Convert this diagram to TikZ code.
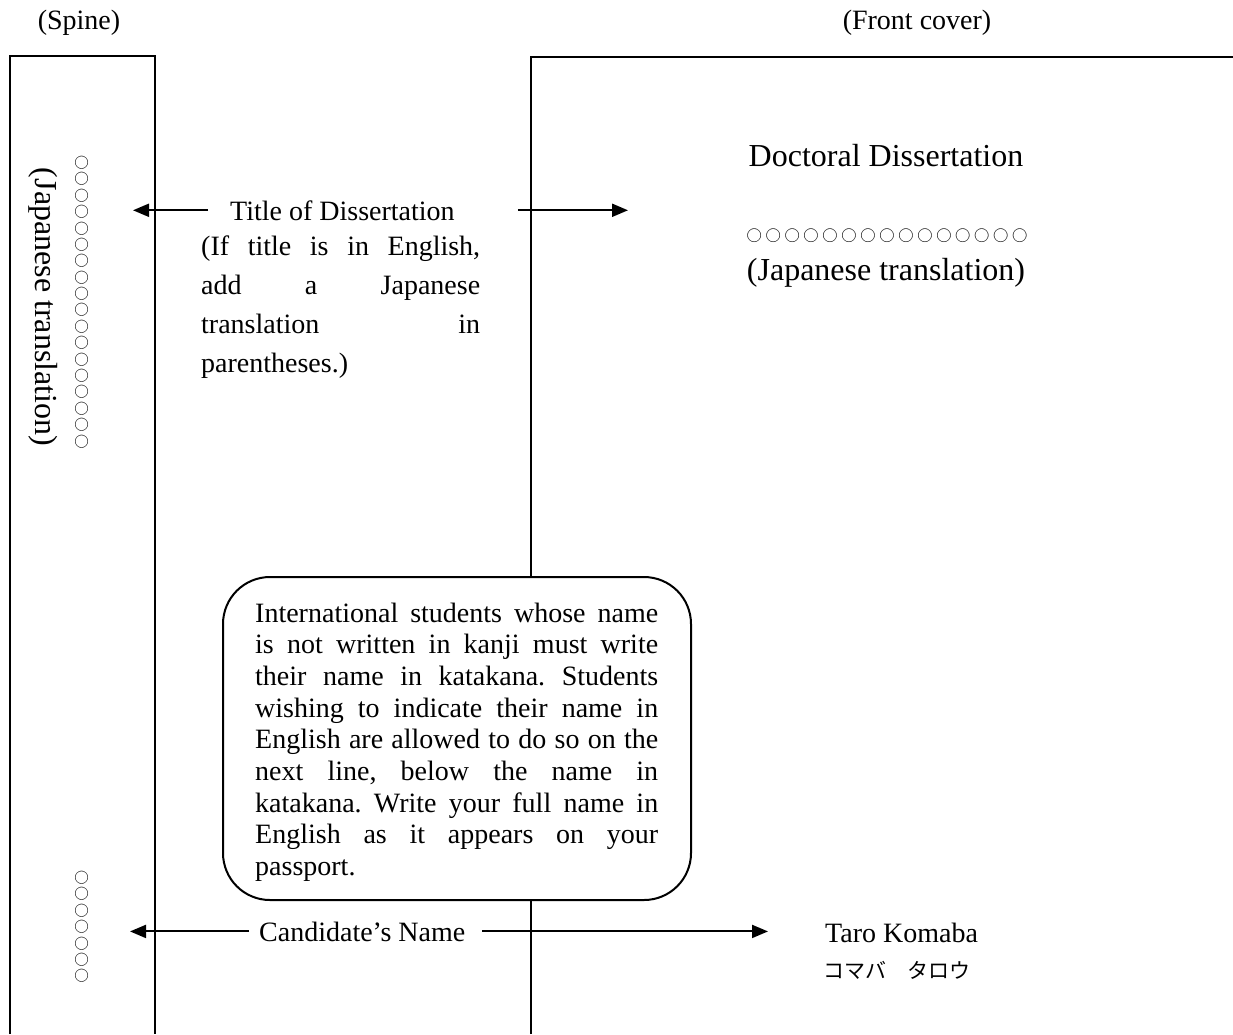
\documentclass[tikz,border=0pt]{standalone}
\usepackage{fontspec}
\setmainfont{Liberation Serif}
\newfontfamily\jpfont{Noto Sans CJK JP}
\newfontfamily\ringfont[LetterSpace=13]{Noto Sans CJK JP}
\newfontfamily\ringwide[LetterSpace=24]{Noto Sans CJK JP}
\usetikzlibrary{arrows.meta}

\begin{document}
\begin{tikzpicture}[x=1pt,y=-1pt,
    frame/.style={line width=2pt},
    pointer/.style={line width=2pt,-{Triangle[length=16pt,width=13pt]}},
    txt/.style={inner sep=0pt,font=\fontsize{28}{34}\selectfont},
    big/.style={inner sep=0pt,font=\fontsize{32}{38}\selectfont},
    marks/.style={inner sep=0pt,font=\ringfont\fontsize{14.5}{20}\selectfont}]
  \useasboundingbox (0,0) rectangle (1233,1034);

  % spine and front cover
  \draw[frame] (10,1034) |- (155,56) -- (155,1034);
  \draw[frame] (531,1034) |- (1233,57);
  \node[txt,anchor=base] (spinehead) at (79,29) {(Spine)};
  \node[txt,anchor=base] (fronthead) at (917,29) {(Front cover)};

  % spine
  \node[big,rotate=-90] (spinetitle) at (43,307) {(Japanese translation)};
  \node[marks,rotate=-90] (spinemarks) at (82,302) {○○○○○○○○○○○○○○○○○○};
  \node[marks,rotate=-90] (spinename) at (82,927) {○○○○○○○};

  % front cover
  \node[big,anchor=base] (doctoral) at (886,166) {Doctoral Dissertation};
  \node[inner sep=0pt,font=\ringwide\fontsize{15.3}{22}\selectfont] (frontmarks) at (887,236) {○○○○○○○○○○○○○○○};
  \node[big,anchor=base] (fronttrans) at (886,280) {(Japanese translation)};
  \node[txt,anchor=base west] (taro) at (825,942) {Taro Komaba};
  \node[inner sep=0pt,anchor=west,font=\jpfont\fontsize{21}{24}\selectfont] (kana) at (823,970) {コマバ　タロウ};

  % title of dissertation
  \coordinate (titleL) at (133,0);
  \coordinate (titleR) at (628,0);
  \node[txt,anchor=base west] (title) at (230,220) {Title of Dissertation};
  \node[txt,anchor=base west] (titlenote) at (201,255) {\parbox[t]{279pt}{\fontsize{28}{39}\selectfont
    \tolerance=10000 \hbadness=10000 \hyphenpenalty=10000 \frenchspacing
    (If title is in English,\linebreak add a Japanese\linebreak translation in\linebreak parentheses.)}};
  \draw[pointer] ([xshift=-22pt]title.west) -- (title.west -| titleL);
  \draw[pointer] ([xshift=63pt]title.east) -- (title.east -| titleR);

  % note on the name
  \node[draw,line width=2pt,fill=white,rounded corners=47pt,minimum width=468pt,minimum height=323pt,inner sep=0pt] (notebox) at (457,738.5) {};
  \node[txt,anchor=base west] (notetext) at (255,622) {\parbox[t]{403pt}{\fontsize{28}{31.7}\selectfont
    \tolerance=10000 \hbadness=10000 \hyphenpenalty=10000 \frenchspacing
    International students whose name\linebreak is not written in kanji must write\linebreak their name in katakana. Students\linebreak wishing to indicate their name in\linebreak English are allowed to do so on the\linebreak next line, below the name in\linebreak katakana. Write your full name in\linebreak English as it appears on your\linebreak passport.}};

  % candidate's name
  \coordinate (nameL) at (130,0);
  \coordinate (nameR) at (768,0);
  \node[txt,anchor=base west] (cand) at (259,941) {Candidate's Name};
  \draw[pointer] ([xshift=-10pt]cand.west) -- (cand.west -| nameL);
  \draw[pointer] ([xshift=17pt]cand.east) -- (cand.east -| nameR);
\end{tikzpicture}
\end{document}
